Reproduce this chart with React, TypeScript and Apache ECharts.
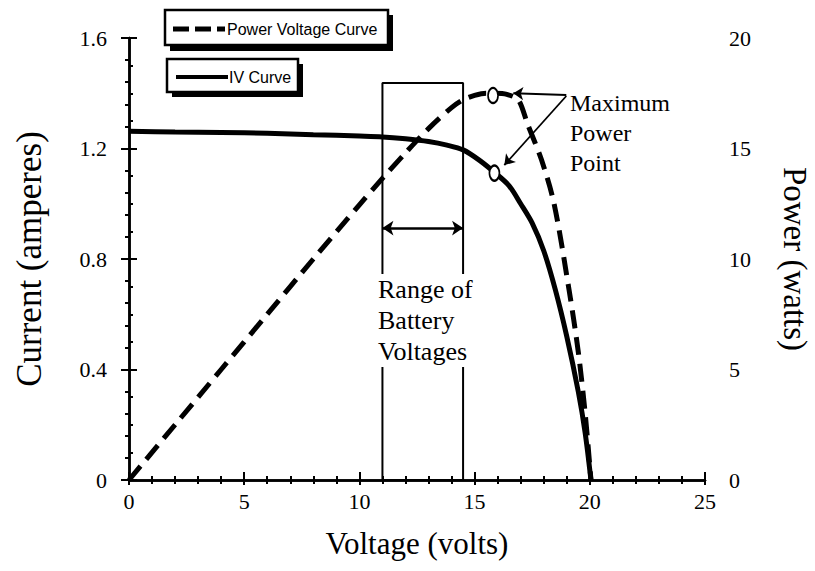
import React, { useEffect, useRef } from "react";
import * as echarts from "echarts";

// IV curve (current in amperes vs voltage in volts)
const ivVolts = [0, 2, 4, 6, 8, 10, 11, 12, 13, 13.8, 14.5, 15.2, 15.9, 16.5, 17, 17.5, 18, 18.5, 19, 19.5, 19.8, 20.05];
const ivCurrent = [1.262, 1.26, 1.258, 1.255, 1.25, 1.245, 1.242, 1.235, 1.225, 1.212, 1.195, 1.158, 1.111, 1.065, 1.0, 0.93, 0.83, 0.69, 0.52, 0.32, 0.17, 0];

// Power voltage curve (watts vs volts)
const pvVolts = [0, 2, 4, 6, 8, 10, 11, 12, 13, 14, 14.5, 15, 15.5, 15.9, 16.4, 16.9, 17.3, 17.9, 18.45, 19.1, 19.5, 19.8, 20.05];
const pvPower = [0, 2.5, 5.0, 7.5, 10.0, 12.45, 13.65, 14.8, 15.9, 16.85, 17.2, 17.4, 17.5, 17.5, 17.45, 17.2, 16.1, 14.5, 12.5, 8.6, 5.8, 3.0, 0];

// Maximum power points
const mppPower: [number, number] = [15.8, 17.4];
const mppCurrent: [number, number] = [15.86, 1.111];

// Range of battery voltages
const batteryRange = [11, 14.5];
const boxTopCurrent = 1.437;
const rangeArrowCurrent = 0.912;

// Annotation arrow start points
const annotStartVolts = 18.98;
const annotPowerTip: [number, number] = [16.68, 17.5];
const annotStartPower = 17.42;
const annotCurrentStart = 1.39;
const annotCurrentTip: [number, number] = [16.29, 1.14];

const xTicks = { min: 0, max: 25, interval: 5 };
const leftTicks = { min: 0, max: 1.6, interval: 0.4 };
const rightTicks = { min: 0, max: 20, interval: 5 };

const serif = "Liberation Serif";
const sans = "Liberation Sans";

export default function App() {
  const ref = useRef<HTMLDivElement>(null);
  useEffect(() => {
    if (!ref.current) return;
    const chart = echarts.init(ref.current, undefined, { renderer: "svg" });
    const axisLine = { show: true, lineStyle: { color: "#000", width: 2.5 } };
    const labelStyle = { color: "#000", fontFamily: serif, fontSize: 22 };
    const tick = { show: true, inside: true, length: 8, lineStyle: { color: "#000", width: 2 } };
    const minor = (n: number) => ({ show: true, splitNumber: n, length: 4, lineStyle: { color: "#000", width: 2 } });

    const ivData = ivVolts.map((v, i) => [v, ivCurrent[i]]);
    const pvData = pvVolts.map((v, i) => [v, pvPower[i]]);

    const option: any = {
      animation: false,
      backgroundColor: "#fff",
      grid: { left: 129, right: 110, top: 38, bottom: 91, containLabel: false, outerBoundsMode: "none" },
      xAxis: [
        {
          type: "value",
          ...xTicks,
          position: "bottom",
          axisLine,
          axisTick: tick,
          minorTick: minor(5),
          splitLine: { show: false },
          axisLabel: { ...labelStyle, margin: 10 },
          name: "Voltage (volts)",
          nameLocation: "middle",
          nameGap: 48,
          nameTextStyle: { color: "#000", fontFamily: serif, fontSize: 31 },
        },
        {
          type: "value",
          ...xTicks,
          position: "top",
          axisLine,
          axisTick: { ...tick, length: 5 },
          minorTick: minor(5),
          splitLine: { show: false },
          axisLabel: { show: false },
        },
      ],
      yAxis: [
        {
          type: "value",
          ...leftTicks,
          position: "left",
          axisLine,
          axisTick: tick,
          minorTick: minor(4),
          splitLine: { show: false },
          axisLabel: { ...labelStyle, margin: 22 },
          name: "Current (amperes)",
          nameLocation: "middle",
          nameRotate: 90,
          nameGap: 82,
          nameTextStyle: { color: "#000", fontFamily: serif, fontSize: 35 },
        },
        {
          type: "value",
          ...rightTicks,
          position: "right",
          axisLine,
          axisTick: tick,
          minorTick: minor(5),
          splitLine: { show: false },
          axisLabel: { ...labelStyle, margin: 24 },
          name: "Power (watts)",
          nameLocation: "middle",
          nameRotate: -90,
          nameGap: 73,
          nameTextStyle: { color: "#000", fontFamily: serif, fontSize: 33 },
        },
      ],
      series: [
        {
          name: "Range of Battery Voltages",
          type: "line",
          xAxisIndex: 0,
          yAxisIndex: 0,
          symbol: "none",
          data: [
            [batteryRange[0], 0],
            [batteryRange[0], boxTopCurrent],
            [batteryRange[1], boxTopCurrent],
            [batteryRange[1], 0],
            [batteryRange[0], 0],
          ],
          lineStyle: { color: "#000", width: 2 },
          z: 1,
          silent: true,
          markLine: {
            silent: true,
            symbol: ["arrow", "arrow"],
            symbolSize: 11,
            label: { show: false },
            lineStyle: { color: "#000", width: 2.5, type: "solid" },
            data: [[{ coord: [batteryRange[0], rangeArrowCurrent] }, { coord: [batteryRange[1], rangeArrowCurrent] }]],
          },
        },
        {
          name: "IV Curve",
          type: "line",
          xAxisIndex: 0,
          yAxisIndex: 0,
          symbol: "none",
          smooth: 0.3,
          data: ivData,
          lineStyle: { color: "#000", width: 5 },
          z: 3,
          markLine: {
            silent: true,
            symbol: ["none", "arrow"],
            symbolSize: 10,
            label: { show: false },
            lineStyle: { color: "#000", width: 1.8, type: "solid" },
            data: [[{ coord: [annotStartVolts, annotCurrentStart] }, { coord: annotCurrentTip }]],
          },
        },
        {
          name: "Power Voltage Curve",
          type: "line",
          xAxisIndex: 0,
          yAxisIndex: 1,
          symbol: "none",
          smooth: 0.3,
          data: pvData,
          lineStyle: { color: "#000", width: 5, type: [18, 9], cap: "butt" },
          z: 3,
          markLine: {
            silent: true,
            symbol: ["none", "arrow"],
            symbolSize: 10,
            label: { show: false },
            lineStyle: { color: "#000", width: 1.8, type: "solid" },
            data: [[{ coord: [annotStartVolts, annotStartPower] }, { coord: annotPowerTip }]],
          },
        },
        {
          name: "MPP Power",
          type: "scatter",
          xAxisIndex: 0,
          yAxisIndex: 1,
          symbol: "circle",
          symbolSize: [10, 15],
          data: [mppPower],
          itemStyle: { color: "#fff", borderColor: "#000", borderWidth: 2, opacity: 1 },
          z: 5,
        },
        {
          name: "MPP Current",
          type: "scatter",
          xAxisIndex: 0,
          yAxisIndex: 0,
          symbol: "circle",
          symbolSize: [10, 15],
          data: [mppCurrent],
          itemStyle: { color: "#fff", borderColor: "#000", borderWidth: 2, opacity: 1 },
          z: 5,
        },
      ],
      graphic: [
        // Legend box 1
        { type: "rect", z: 100, shape: { x: 170, y: 15, width: 223, height: 36 }, style: { fill: "#000" } },
        { type: "rect", z: 101, shape: { x: 165, y: 10, width: 223, height: 35 }, style: { fill: "#fff", stroke: "#000", lineWidth: 2.5 } },
        { type: "line", z: 102, shape: { x1: 173, y1: 29, x2: 189, y2: 29 }, style: { stroke: "#000", lineWidth: 5 } },
        { type: "line", z: 102, shape: { x1: 195, y1: 29, x2: 211, y2: 29 }, style: { stroke: "#000", lineWidth: 5 } },
        { type: "line", z: 102, shape: { x1: 217, y1: 29, x2: 225, y2: 29 }, style: { stroke: "#000", lineWidth: 5 } },
        { type: "text", z: 102, x: 227, y: 29, style: { text: "Power Voltage Curve", font: `16px '${sans}'`, fill: "#000", verticalAlign: "middle" } },
        // Legend box 2
        { type: "rect", z: 100, shape: { x: 172, y: 64, width: 131, height: 33 }, style: { fill: "#000" } },
        { type: "rect", z: 101, shape: { x: 167, y: 59, width: 131, height: 33 }, style: { fill: "#fff", stroke: "#000", lineWidth: 2.5 } },
        { type: "line", z: 102, shape: { x1: 176, y1: 77, x2: 228, y2: 77 }, style: { stroke: "#000", lineWidth: 4 } },
        { type: "text", z: 102, x: 229, y: 77, style: { text: "IV Curve", font: `16px '${sans}'`, fill: "#000", verticalAlign: "middle" } },
        // Annotations
        {
          type: "text",
          z: 100,
          x: 378,
          y: 274,
          style: {
            text: "Range of\nBattery\nVoltages",
            font: `26px '${serif}'`,
            lineHeight: 31,
            fill: "#000",
            backgroundColor: "#fff",
          },
        },
        {
          type: "text",
          z: 100,
          x: 570,
          y: 88,
          style: {
            text: "Maximum\nPower\nPoint",
            font: `24px '${serif}'`,
            lineHeight: 30,
            fill: "#000",
          },
        },
      ],
    };
    chart.setOption(option);
    return () => chart.dispose();
  }, []);
  return <div ref={ref} style={{ position: "fixed", left: 0, top: 0, width: 815, height: 571 }} />;
}
